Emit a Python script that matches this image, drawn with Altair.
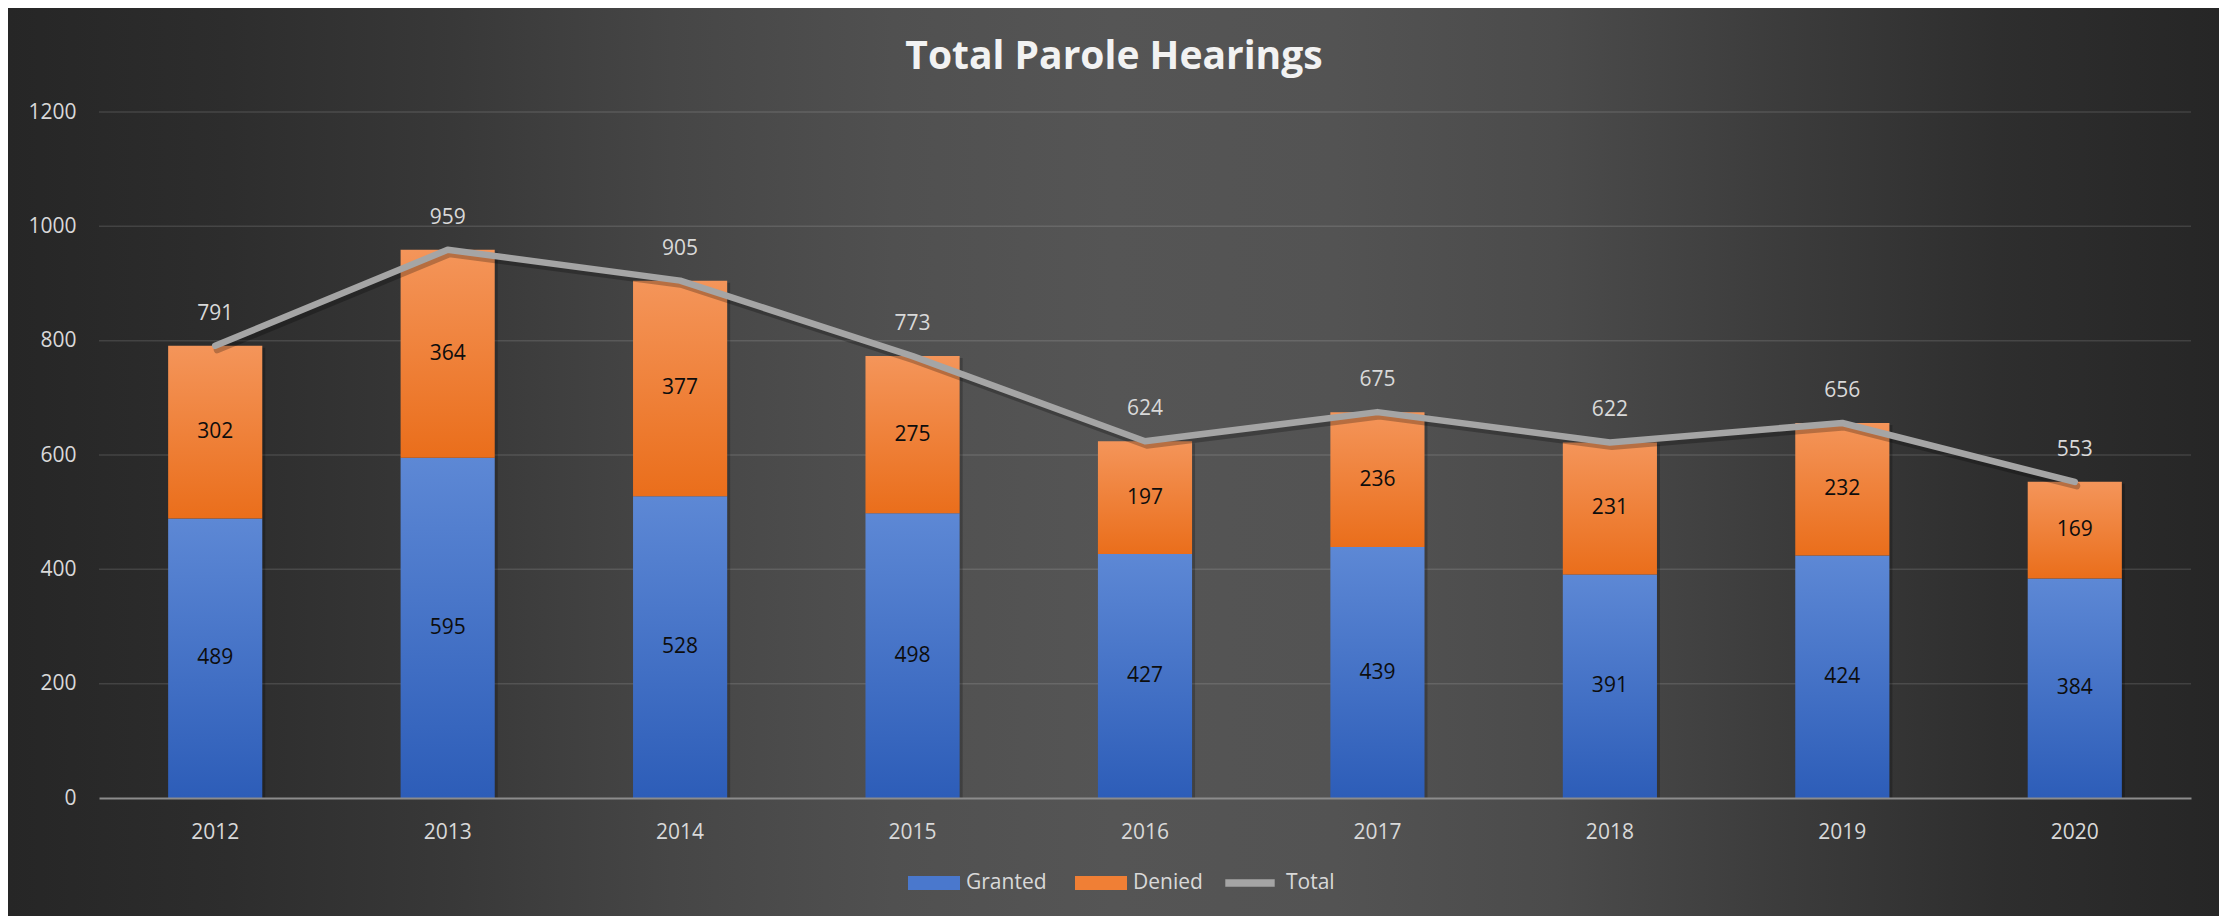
import altair as alt
import pandas as pd

# ---- data ----
years = ["2012", "2013", "2014", "2015", "2016", "2017", "2018", "2019", "2020"]
granted = [489, 595, 528, 498, 427, 439, 391, 424, 384]
denied = [302, 364, 377, 275, 197, 236, 231, 232, 169]
total = [791, 959, 905, 773, 624, 675, 622, 656, 553]
bar_series = ["Granted", "Denied"]
bar_colors = ["#4A78CD", "#F07F35"]
line_series = ["Total"]
line_colors = ["#A5A5A5"]
y_ticks = [0, 200, 400, 600, 800, 1000, 1200]

long_df = pd.DataFrame({
    "year": years + years,
    "series": ["Granted"] * len(years) + ["Denied"] * len(years),
    "order": [0] * len(years) + [1] * len(years),
    "value": granted + denied,
})
tot_df = pd.DataFrame({"year": years, "total": total, "series": ["Total"] * len(years)})
grid_df = pd.DataFrame({"tick": y_ticks})
bg_df = pd.DataFrame({"k": [0]})

W, H = 2092, 686
PL, PT, PR, PB = 91, 104, 28, 120
FONT = "Open Sans"
LABEL = "#d9d9d9"

grad_granted = {"gradient": "linear", "x1": 0, "y1": 0, "x2": 0, "y2": 1,
                "stops": [{"offset": 0, "color": "#5D88D5"}, {"offset": 1, "color": "#2D5DB8"}]}
grad_denied = {"gradient": "linear", "x1": 0, "y1": 0, "x2": 0, "y2": 1,
               "stops": [{"offset": 0, "color": "#F4955A"}, {"offset": 1, "color": "#EA6E1B"}]}
grad_bg = {"gradient": "linear", "x1": 0, "y1": 0, "x2": 1, "y2": 0,
           "stops": [
               {"offset": 0.0, "color": "#262626"},
               {"offset": 0.1, "color": "#2d2d2d"},
               {"offset": 0.2, "color": "#383838"},
               {"offset": 0.3, "color": "#464646"},
               {"offset": 0.4, "color": "#505050"},
               {"offset": 0.5, "color": "#555555"},
               {"offset": 0.6, "color": "#535353"},
               {"offset": 0.7, "color": "#4b4b4b"},
               {"offset": 0.8, "color": "#3c3c3c"},
               {"offset": 0.9, "color": "#2e2e2e"},
               {"offset": 1.0, "color": "#262626"},
           ]}

x_enc = alt.X(
    "year:N",
    sort=years,
    scale=alt.Scale(paddingInner=0.595, paddingOuter=0.2975),
    axis=alt.Axis(
        title=None, labelAngle=0, ticks=False, tickSize=0, labelPadding=23,
        labelFontSize=21, labelColor=LABEL, labelFont=FONT,
        domainColor="#8c8c8c", domainWidth=2, grid=False, zindex=1,
    ),
)
y_scale = alt.Scale(domain=[0, 1200], nice=False)
y_axis = alt.Axis(
    title=None, values=y_ticks, format="d", ticks=False, tickSize=0, labelPadding=23,
    labelFontSize=21, labelColor=LABEL, labelFont=FONT, domain=False,
    grid=False, zindex=1,
)

background = alt.Chart(bg_df).mark_rect(fill=grad_bg).encode(
    x=alt.value(-PL), x2=alt.value(W + PR), y=alt.value(-PT), y2=alt.value(H + PB)
)

grid = alt.Chart(grid_df).transform_filter("datum.tick > 0").mark_rule(
    color="#ffffff", opacity=0.12, strokeWidth=1.5
).encode(
    y=alt.Y("tick:Q", scale=y_scale, axis=y_axis),
    x=alt.value(0), x2=alt.value(W),
)

stacked = alt.Chart(long_df).transform_stack(
    stack="value", groupby=["year"], as_=["y0", "y1"],
    sort=[alt.SortField("order", order="ascending")],
)

shadow = alt.Chart(tot_df).mark_bar(color="#000000", opacity=0.22, xOffset=3, x2Offset=3, yOffset=2).encode(
    x=x_enc, y=alt.Y("total:Q", scale=y_scale), y2=alt.datum(0)
)

bars = stacked.mark_bar().encode(
    x=x_enc,
    y=alt.Y("y0:Q", scale=y_scale),
    y2="y1:Q",
    fill=alt.condition("datum.series === 'Granted'", alt.value(grad_granted), alt.value(grad_denied)),
)

# invisible carrier of the bar legend
bar_legend = alt.Legend(
    title=None, orient="none", legendX=809, legendY=745, direction="horizontal",
    symbolType="M-1,-0.27H1V0.27H-1Z", symbolSize=2704, symbolOpacity=1,
    symbolStrokeWidth=0, labelFontSize=21, labelColor=LABEL, labelFont=FONT,
    labelOffset=6, columnPadding=28, padding=0, zindex=1,
)
bar_key = stacked.mark_point(filled=True, opacity=0, size=1).encode(
    x=x_enc, y=alt.Y("y1:Q", scale=y_scale),
    color=alt.Color("series:N", scale=alt.Scale(domain=bar_series, range=bar_colors), legend=bar_legend),
)

seg_labels = stacked.transform_calculate(mid="(datum.y0 + datum.y1) / 2").mark_text(
    font=FONT, fontSize=21, color="#0d0d0d", baseline="middle"
).encode(x=x_enc, y=alt.Y("mid:Q", scale=y_scale), text="value:Q")

line_shadow = alt.Chart(tot_df).mark_line(
    color="#000000", opacity=0.25, strokeWidth=7, strokeCap="round", strokeJoin="round",
    xOffset=2, yOffset=4,
).encode(x=x_enc, y=alt.Y("total:Q", scale=y_scale))

line_legend = alt.Legend(
    title=None, orient="none", legendX=1121, legendY=741, direction="horizontal",
    symbolType="M-0.95,0H0.95", symbolSize=2704, symbolStrokeWidth=7.5, symbolOpacity=1,
    labelFontSize=21, labelColor=LABEL, labelFont=FONT,
    labelOffset=6, padding=0, zindex=1,
)
line = alt.Chart(tot_df).mark_line(strokeWidth=6.5, strokeCap="round", strokeJoin="round").encode(
    x=x_enc,
    y=alt.Y("total:Q", scale=y_scale),
    color=alt.Color("series:N", scale=alt.Scale(domain=line_series, range=line_colors), legend=line_legend),
)

tot_labels = alt.Chart(tot_df).mark_text(
    font=FONT, fontSize=21, color=LABEL, baseline="middle", dy=-32
).encode(x=x_enc, y=alt.Y("total:Q", scale=y_scale), text="total:Q")

chart = alt.layer(
    background, grid, shadow, bars, bar_key, seg_labels, line_shadow, line, tot_labels
).resolve_scale(
    color="independent"
).resolve_legend(
    color="independent"
).properties(
    width=W, height=H,
    padding={"left": PL, "top": PT, "right": PR, "bottom": PB},
    autosize=alt.AutoSizeParams(type="none"),
    background="#3d3d3d",
    title=alt.TitleParams(
        "Total Parole Hearings", font=FONT, fontSize=39, fontWeight="bold",
        color="#f2f2f2", anchor="middle", baseline="alphabetic", offset=-100, dx=-31, zindex=1,
    ),
).configure_view(strokeWidth=0)

chart.save("out.html", embed_options={"renderer": "svg", "actions": False})
